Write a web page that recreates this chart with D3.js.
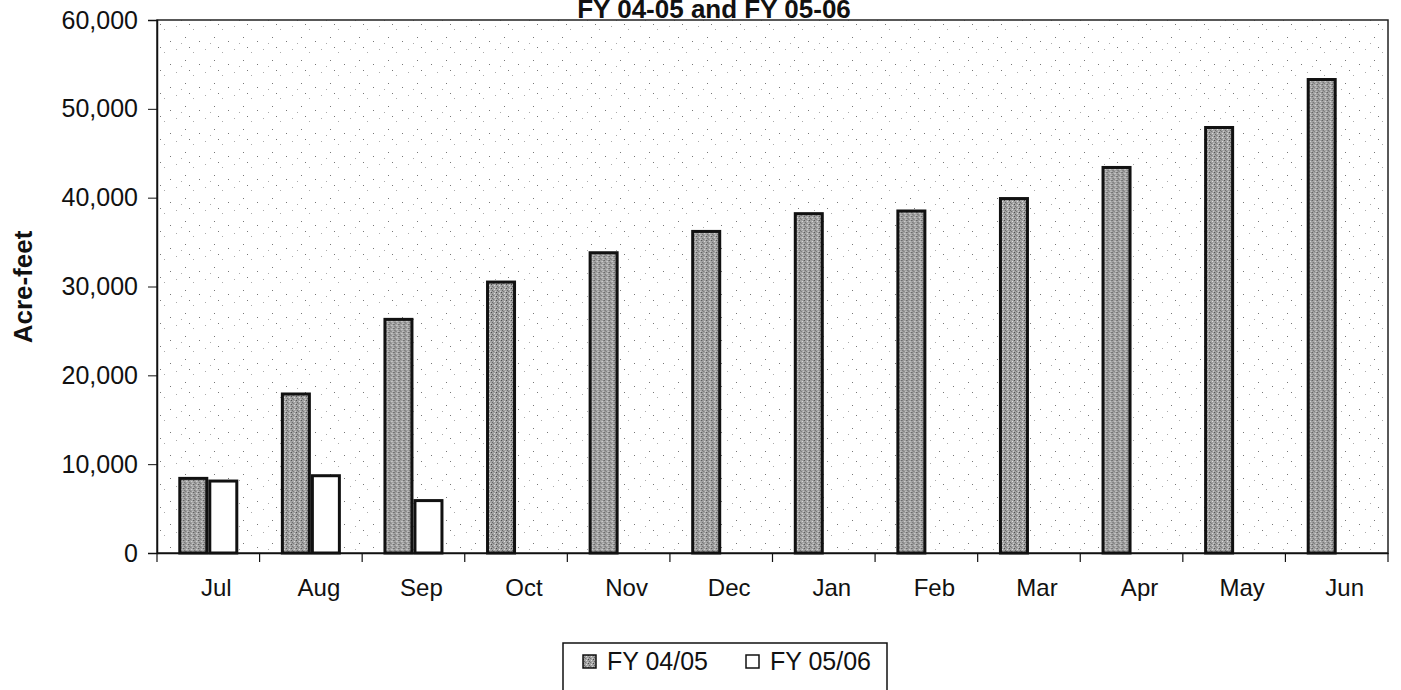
<!DOCTYPE html>
<html>
<head>
<meta charset="utf-8">
<script src="https://cdn.jsdelivr.net/npm/d3@7"></script>
<style>
  body { margin: 0; background: #fff; }
  text { font-family: Arial, "Liberation Sans", sans-serif; fill: #111; }
</style>
</head>
<body>
<div id="chart"></div>
<script>
var months = ["Jul", "Aug", "Sep", "Oct", "Nov", "Dec", "Jan", "Feb", "Mar", "Apr", "May", "Jun"];
var seriesNames = ["FY 04/05", "FY 05/06"];
var fy0405 = [8400, 17900, 26300, 30500, 33800, 36200, 38200, 38500, 39900, 43400, 47900, 53300];
var fy0506 = [8100, 8700, 5900, null, null, null, null, null, null, null, null, null];
var yTicks = [0, 10000, 20000, 30000, 40000, 50000, 60000];

var width = 1401,
    height = 690;

var plotLeft = 157, plotRight = 1388, plotTop = 20, plotBottom = 553;

var svg = d3.select("#chart").append("svg")
    .attr("width", width)
    .attr("height", height);

var defs = svg.append("defs");

// speckled paper background
var bgPat = defs.append("pattern")
    .attr("id", "paper")
    .attr("width", 29).attr("height", 23)
    .attr("patternUnits", "userSpaceOnUse");
bgPat.append("rect").attr("width", 29).attr("height", 23).attr("fill", "#fff");
[[2, 3], [11, 14], [19, 6], [25, 18], [7, 20], [15, 1]].forEach(function(p, i) {
    bgPat.append("rect").attr("x", p[0]).attr("y", p[1])
        .attr("width", 1).attr("height", 1)
        .attr("fill", i % 2 ? "#777" : "#aaa");
});

// grainy grey bar texture
var barPat = defs.append("pattern")
    .attr("id", "grain")
    .attr("width", 5).attr("height", 4)
    .attr("patternUnits", "userSpaceOnUse");
barPat.append("rect").attr("width", 5).attr("height", 4).attr("fill", "#a2a2a2");
[[0, 0, "#4a4a4a"], [3, 1, "#e0e0e0"], [1, 2, "#666"], [4, 3, "#cfcfcf"], [2, 3, "#777"]].forEach(function(p) {
    barPat.append("rect").attr("x", p[0]).attr("y", p[1])
        .attr("width", 1).attr("height", 1).attr("fill", p[2]);
});

var x = d3.scaleBand()
    .domain(months)
    .range([plotLeft, plotRight])
    .paddingInner(0.415)
    .paddingOuter(0.2075);

var x1 = d3.scaleBand()
    .domain(seriesNames)
    .range([0, x.bandwidth()]);

var y = d3.scaleLinear()
    .domain([0, 60000])
    .range([plotBottom, plotTop]);

// plot area
svg.append("rect")
    .attr("x", plotLeft).attr("y", plotTop)
    .attr("width", plotRight - plotLeft).attr("height", plotBottom - plotTop)
    .attr("fill", "url(#paper)")
    .attr("stroke", "#222")
    .attr("stroke-width", 1.5);

// title
svg.append("text")
    .attr("x", 714)
    .attr("y", 18)
    .attr("text-anchor", "middle")
    .style("font-size", "26px")
    .style("font-weight", "bold")
    .text("FY 04-05 and FY 05-06");

// bars
var rows = months.map(function(m, i) {
    return {month: m, values: [
        {name: seriesNames[0], value: fy0405[i]},
        {name: seriesNames[1], value: fy0506[i]}
    ]};
});

var groups = svg.append("g").selectAll("g")
    .data(rows)
    .enter().append("g")
    .attr("transform", function(d) { return "translate(" + x(d.month) + ",0)"; });

groups.selectAll("rect")
    .data(function(d) { return d.values.filter(function(v) { return v.value != null; }); })
    .enter().append("rect")
    .attr("x", function(d) { return x1(d.name) + 1.5; })
    .attr("y", function(d) { return y(d.value); })
    .attr("width", x1.bandwidth() - 3)
    .attr("height", function(d) { return plotBottom - y(d.value); })
    .attr("fill", function(d) { return d.name === seriesNames[0] ? "url(#grain)" : "#fff"; })
    .attr("stroke", "#111")
    .attr("stroke-width", 3);

// y axis
var yAxis = svg.append("g")
    .attr("transform", "translate(" + plotLeft + ",0)")
    .call(d3.axisLeft(y).tickValues(yTicks).tickSize(9).tickPadding(10)
        .tickFormat(d3.format(",")));
yAxis.select(".domain").attr("stroke", "#111").attr("stroke-width", 1.5);
yAxis.selectAll(".tick line").attr("stroke", "#111");
yAxis.selectAll("text").style("font-size", "25px").attr("fill", "#111");

svg.append("text")
    .attr("transform", "translate(32,287) rotate(-90)")
    .attr("text-anchor", "middle")
    .style("font-size", "26px")
    .style("font-weight", "bold")
    .text("Acre-feet");

// x axis: labels at band centres, ticks at category boundaries
var xAxis = svg.append("g")
    .attr("transform", "translate(0," + plotBottom + ")")
    .call(d3.axisBottom(x).tickSize(0).tickPadding(26));
xAxis.select(".domain").attr("stroke", "#111").attr("stroke-width", 1.5);
xAxis.selectAll("text").style("font-size", "24px").attr("fill", "#111").attr("dx", 8);

var step = x.step();
svg.append("g").selectAll("line")
    .data(d3.range(months.length + 1))
    .enter().append("line")
    .attr("x1", function(i) { return plotLeft + i * step; })
    .attr("x2", function(i) { return plotLeft + i * step; })
    .attr("y1", plotBottom)
    .attr("y2", plotBottom + 9)
    .attr("stroke", "#111")
    .attr("stroke-width", 1.2);

// legend
var legend = svg.append("g").attr("transform", "translate(563,643)");
legend.append("rect")
    .attr("width", 324).attr("height", 60)
    .attr("fill", "#fff")
    .attr("stroke", "#111")
    .attr("stroke-width", 1.5);

var items = legend.selectAll("g")
    .data(seriesNames)
    .enter().append("g")
    .attr("transform", function(d, i) { return "translate(" + (20 + i * 163) + ",0)"; });

items.append("rect")
    .attr("y", 12)
    .attr("width", 13).attr("height", 13)
    .attr("fill", function(d, i) { return i === 0 ? "url(#grain)" : "#fff"; })
    .attr("stroke", "#111")
    .attr("stroke-width", 1.5);

items.append("text")
    .attr("x", 24)
    .attr("y", 27)
    .style("font-size", "25px")
    .text(function(d) { return d; });
</script>
</body>
</html>
